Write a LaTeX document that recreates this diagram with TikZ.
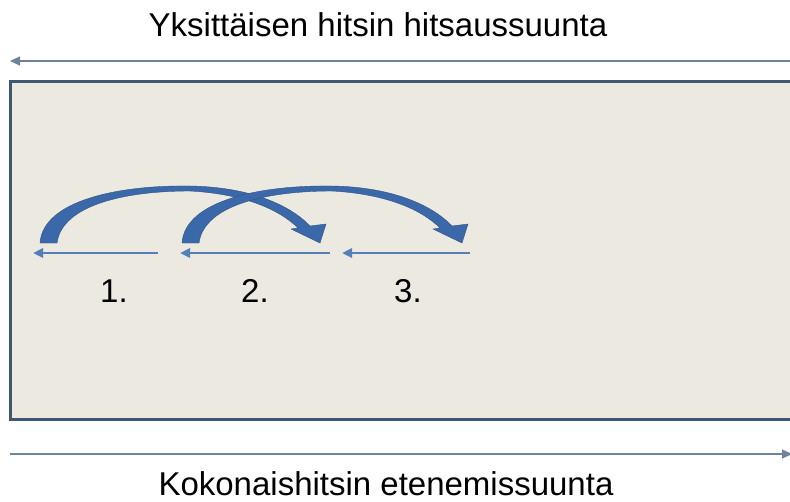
\documentclass[tikz,border=0pt]{standalone}
\usepackage{fontspec}
\setmainfont{Liberation Sans}
\usetikzlibrary{arrows.meta}

\definecolor{boxfill}{RGB}{236,233,224}
\definecolor{boxline}{RGB}{62,88,115}
\definecolor{dirline}{RGB}{110,130,155}
\definecolor{steparr}{RGB}{84,128,186}
\definecolor{jumparr}{RGB}{58,104,168}

\begin{document}
\begin{tikzpicture}[
    x=1pt, y=-1pt,
    every node/.style={font=\fontsize{33}{36}\selectfont, inner sep=0pt},
    label/.style={anchor=base},
    dir/.style={-{Triangle[length=10pt, width=9pt]}, line width=1.4pt, draw=dirline},
    stepline/.style={-{Triangle[length=10pt, width=9pt]}, line width=2.6pt, draw=steparr},
    jump/.style={fill=jumparr, draw=jumparr!80!black, line width=0.4pt},
]
\useasboundingbox (0,0) rectangle (790,501);
\clip (0,0) rectangle (790,501);

% Titles
\node[label] (title)  at (378,36)  {Yksittäisen hitsin hitsaussuunta};
\node[label] (bottom) at (386,495) {Kokonaishitsin etenemissuunta};

% Direction arrows
\coordinate (tl) at (10,61);
\coordinate (tr) at (800,61);
\coordinate (bl) at (10,454);
\coordinate (br) at (792,454);
\draw[dir] (tr) -- (tl);
\draw[dir] (bl) -- (br);

% Plate
\filldraw[fill=boxfill, draw=boxline, line width=3pt] (10,81) rectangle (810,419);

% Step arrows
\coordinate (s1a) at (158,253);
\coordinate (s1b) at (33,253);
\coordinate (s2a) at (330,253);
\coordinate (s2b) at (180,253);
\coordinate (s3a) at (470,253);
\coordinate (s3b) at (342,253);
\draw[stepline] (s1a) -- (s1b);
\draw[stepline] (s2a) -- (s2b);
\draw[stepline] (s3a) -- (s3b);

\node[label] (n1) at (114,302) {1.};
\node[label] (n2) at (255,302) {2.};
\node[label] (n3) at (408,302) {3.};

% Curved arrows
\foreach \dx in {0,142}{
  \begin{scope}[xshift=\dx]
    \path[jump] (40,243) .. controls (43,200) and (120,185) .. (190,186)
      .. controls (250,187) and (290,205) .. (310,226)
      -- (326,224) -- (320,243) -- (291,229) -- (298,228)
      .. controls (280,210) and (245,194) .. (190,191)
      .. controls (125,191) and (62,205) .. (57,243) -- cycle;
  \end{scope}
}

\end{tikzpicture}
\end{document}
